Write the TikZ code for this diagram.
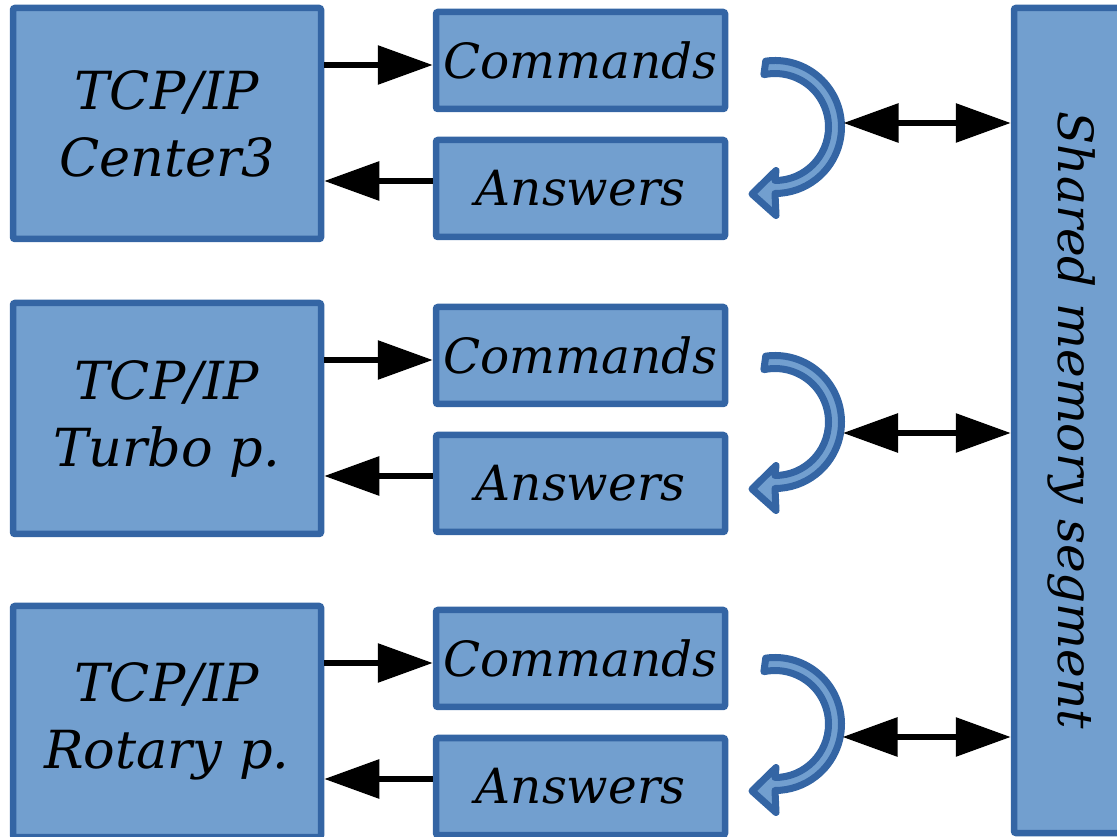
\documentclass[tikz,border=0pt]{standalone}
\usepackage{fontspec}
\setmainfont{DejaVu Serif}
\usetikzlibrary{arrows.meta,positioning}
\definecolor{boxfill}{HTML}{729FCF}
\definecolor{boxline}{HTML}{3465A4}
\tikzset{
  block/.style={draw=boxline,fill=boxfill,line width=6.5pt,rounded corners=2pt,
    inner sep=0pt,align=center,font=\itshape\fontsize{48.5}{56}\selectfont},
  host/.style={block,minimum width=308,minimum height=231,
    font=\itshape\fontsize{52.5}{67}\selectfont},
  queue/.style={block,minimum width=289,minimum height=97},
  turn/.style={draw=boxline,fill=boxfill,line width=7pt,line join=round},
  link/.style={line width=6pt,-{Triangle[length=55pt,width=38pt]}},
  dlink/.style={line width=6pt,{Triangle[length=55pt,width=38pt]}-{Triangle[length=55pt,width=38pt]}}
}
\begin{document}
\begin{tikzpicture}[x=1pt,y=1pt]
\useasboundingbox (0,0) rectangle (1117,836);
% shared memory column
\node[block,rotate=-90,minimum width=825,minimum height=116] (shm) at (1072,415.5) {Shared memory segment};
% first row
\node[host] (tcp1) at (167,712.5) {TCP/IP\\Center3};
\node[queue] (cmd1) at (580.5,775.5) {Commands};
\node[queue] (ans1) at (580.5,647.5) {Answers};
\draw[link] ([yshift=-4.5pt]cmd1.west -| tcp1.east) -- ([yshift=-4.5pt]cmd1.west);
\draw[link] ([yshift=7.5pt]ans1.west) -- ([yshift=7.5pt]ans1.west -| tcp1.east);
\begin{scope}[shift={(775,709)}]
\draw[turn] (98:66.5) arc[start angle=98,end angle=-90,radius=66.5] -- (1,-88.5) -- (-23,-67)
  -- (1,-43.5) -- (0,-53.5) arc[start angle=-90,end angle=102,radius=53.5] -- cycle;
\coordinate (rim1) at (68.5,4);
\end{scope}
\draw[dlink] (rim1) -- (rim1 -| shm.south);
% second row
\node[host] (tcp2) at (167,417.5) {TCP/IP\\Turbo p.};
\node[queue] (cmd2) at (580.5,480.5) {Commands};
\node[queue] (ans2) at (580.5,352.5) {Answers};
\draw[link] ([yshift=-4.5pt]cmd2.west -| tcp2.east) -- ([yshift=-4.5pt]cmd2.west);
\draw[link] ([yshift=7.5pt]ans2.west) -- ([yshift=7.5pt]ans2.west -| tcp2.east);
\begin{scope}[shift={(775,414)}]
\draw[turn] (98:66.5) arc[start angle=98,end angle=-90,radius=66.5] -- (1,-88.5) -- (-23,-67)
  -- (1,-43.5) -- (0,-53.5) arc[start angle=-90,end angle=102,radius=53.5] -- cycle;
\coordinate (rim2) at (68,-11);
\end{scope}
\draw[dlink] (rim2) -- (rim2 -| shm.south);
% third row
\node[host] (tcp3) at (167,114.5) {TCP/IP\\Rotary p.};
\node[queue] (cmd3) at (580.5,177.5) {Commands};
\node[queue] (ans3) at (580.5,49.5) {Answers};
\draw[link] ([yshift=-4.5pt]cmd3.west -| tcp3.east) -- ([yshift=-4.5pt]cmd3.west);
\draw[link] ([yshift=7.5pt]ans3.west) -- ([yshift=7.5pt]ans3.west -| tcp3.east);
\begin{scope}[shift={(775,112)}]
\draw[turn] (98:66.5) arc[start angle=98,end angle=-90,radius=66.5] -- (1,-88.5) -- (-23,-67)
  -- (1,-43.5) -- (0,-53.5) arc[start angle=-90,end angle=102,radius=53.5] -- cycle;
\coordinate (rim3) at (67.5,-13);
\end{scope}
\draw[dlink] (rim3) -- (rim3 -| shm.south);
\end{tikzpicture}
\end{document}
